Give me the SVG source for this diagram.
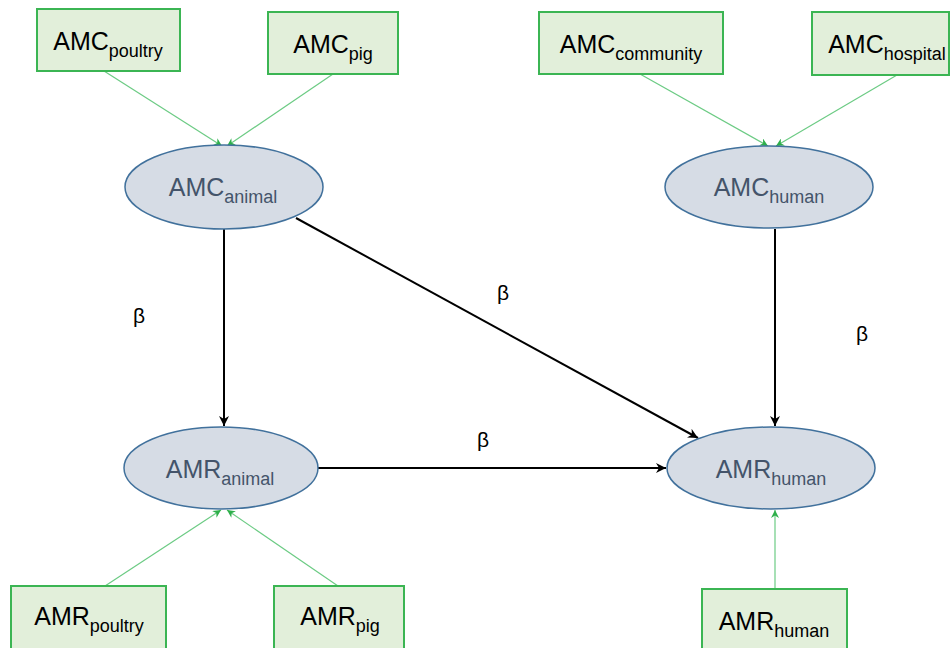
<svg xmlns="http://www.w3.org/2000/svg" width="950" height="648" viewBox="0 0 950 648">
<defs>
<style>
.box{fill:#E2EFDA;stroke:#3BB553;stroke-width:2}
.ell{fill:#D6DCE5;stroke:#41719C;stroke-width:1.5}
.t{font-family:"Liberation Sans",Arial,sans-serif;font-size:25px;text-anchor:middle;fill:#000}
.te{fill:#44546A}
.s{font-size:18px}
.g{stroke:#6CCB84;stroke-width:1.2;fill:none;marker-end:url(#ga)}
.k{stroke:#000;stroke-width:2;fill:none;marker-end:url(#ka)}
.b{font-family:"Liberation Sans",Arial,sans-serif;font-size:21px;fill:#000}
</style>
<marker id="ga" viewBox="0 0 10 10" refX="10" refY="5" markerWidth="10" markerHeight="8" markerUnits="userSpaceOnUse" orient="auto"><path d="M0,0 L10,5 L0,10 L3,5 z" fill="#2EAF4A"/></marker>
<marker id="ka" viewBox="0 0 10 10" refX="10" refY="5" markerWidth="11" markerHeight="10" markerUnits="userSpaceOnUse" orient="auto"><path d="M0,0 L10,5 L0,10 L3,5 z" fill="#000"/></marker>
</defs>
<rect width="950" height="648" fill="#fff"/>
<g id="connectors">
<line class="g" x1="104" y1="71" x2="222" y2="146"/>
<line class="g" x1="333" y1="74" x2="227" y2="146"/>
<line class="g" x1="640" y1="74" x2="768" y2="146"/>
<line class="g" x1="897" y1="75" x2="776" y2="146"/>
<line class="g" x1="105" y1="586" x2="221" y2="510"/>
<line class="g" x1="338" y1="586" x2="227" y2="510"/>
<line class="g" x1="775" y1="589" x2="775" y2="510"/>
<line class="k" x1="224" y1="229" x2="224" y2="426"/>
<line class="k" x1="296" y1="218" x2="698" y2="438"/>
<line class="k" x1="318" y1="468" x2="666" y2="468"/>
<line class="k" x1="775" y1="229" x2="775" y2="426"/>
<text class="b" x="133" y="323">β</text>
<text class="b" x="497" y="300">β</text>
<text class="b" x="477" y="447">β</text>
<text class="b" x="856" y="341">β</text>
</g>
<g id="amc_poultry"><rect class="box" x="37" y="9" width="143" height="62"/><text class="t" x="108" y="50">AMC<tspan class="s" dy="7">poultry</tspan></text></g>
<g id="amc_pig"><rect class="box" x="268" y="12" width="130" height="62"/><text class="t" x="333" y="53">AMC<tspan class="s" dy="7">pig</tspan></text></g>
<g id="amc_community"><rect class="box" x="539" y="12" width="184" height="62"/><text class="t" x="631" y="53">AMC<tspan class="s" dy="7">community</tspan></text></g>
<g id="amc_hospital"><rect class="box" x="812" y="12" width="137" height="63"/><text class="t" x="887" y="53">AMC<tspan class="s" dy="7">hospital</tspan></text></g>
<g id="amc_animal"><ellipse class="ell" cx="224" cy="187" rx="99" ry="42"/><text class="t te" x="223" y="196">AMC<tspan class="s" dy="7">animal</tspan></text></g>
<g id="amc_human"><ellipse class="ell" cx="769" cy="187" rx="104" ry="41"/><text class="t te" x="769" y="196">AMC<tspan class="s" dy="7">human</tspan></text></g>
<g id="amr_animal"><ellipse class="ell" cx="221" cy="468" rx="97" ry="41"/><text class="t te" x="220" y="478">AMR<tspan class="s" dy="7">animal</tspan></text></g>
<g id="amr_human"><ellipse class="ell" cx="771" cy="468" rx="104" ry="41"/><text class="t te" x="771" y="478">AMR<tspan class="s" dy="7">human</tspan></text></g>
<g id="amr_poultry"><rect class="box" x="11" y="586" width="155" height="70"/><text class="t" x="89" y="625">AMR<tspan class="s" dy="7">poultry</tspan></text></g>
<g id="amr_pig"><rect class="box" x="274" y="586" width="130" height="70"/><text class="t" x="340" y="625">AMR<tspan class="s" dy="7">pig</tspan></text></g>
<g id="amr_human_box"><rect class="box" x="702" y="589" width="145" height="70"/><text class="t" x="774" y="630">AMR<tspan class="s" dy="7">human</tspan></text></g>
</svg>
